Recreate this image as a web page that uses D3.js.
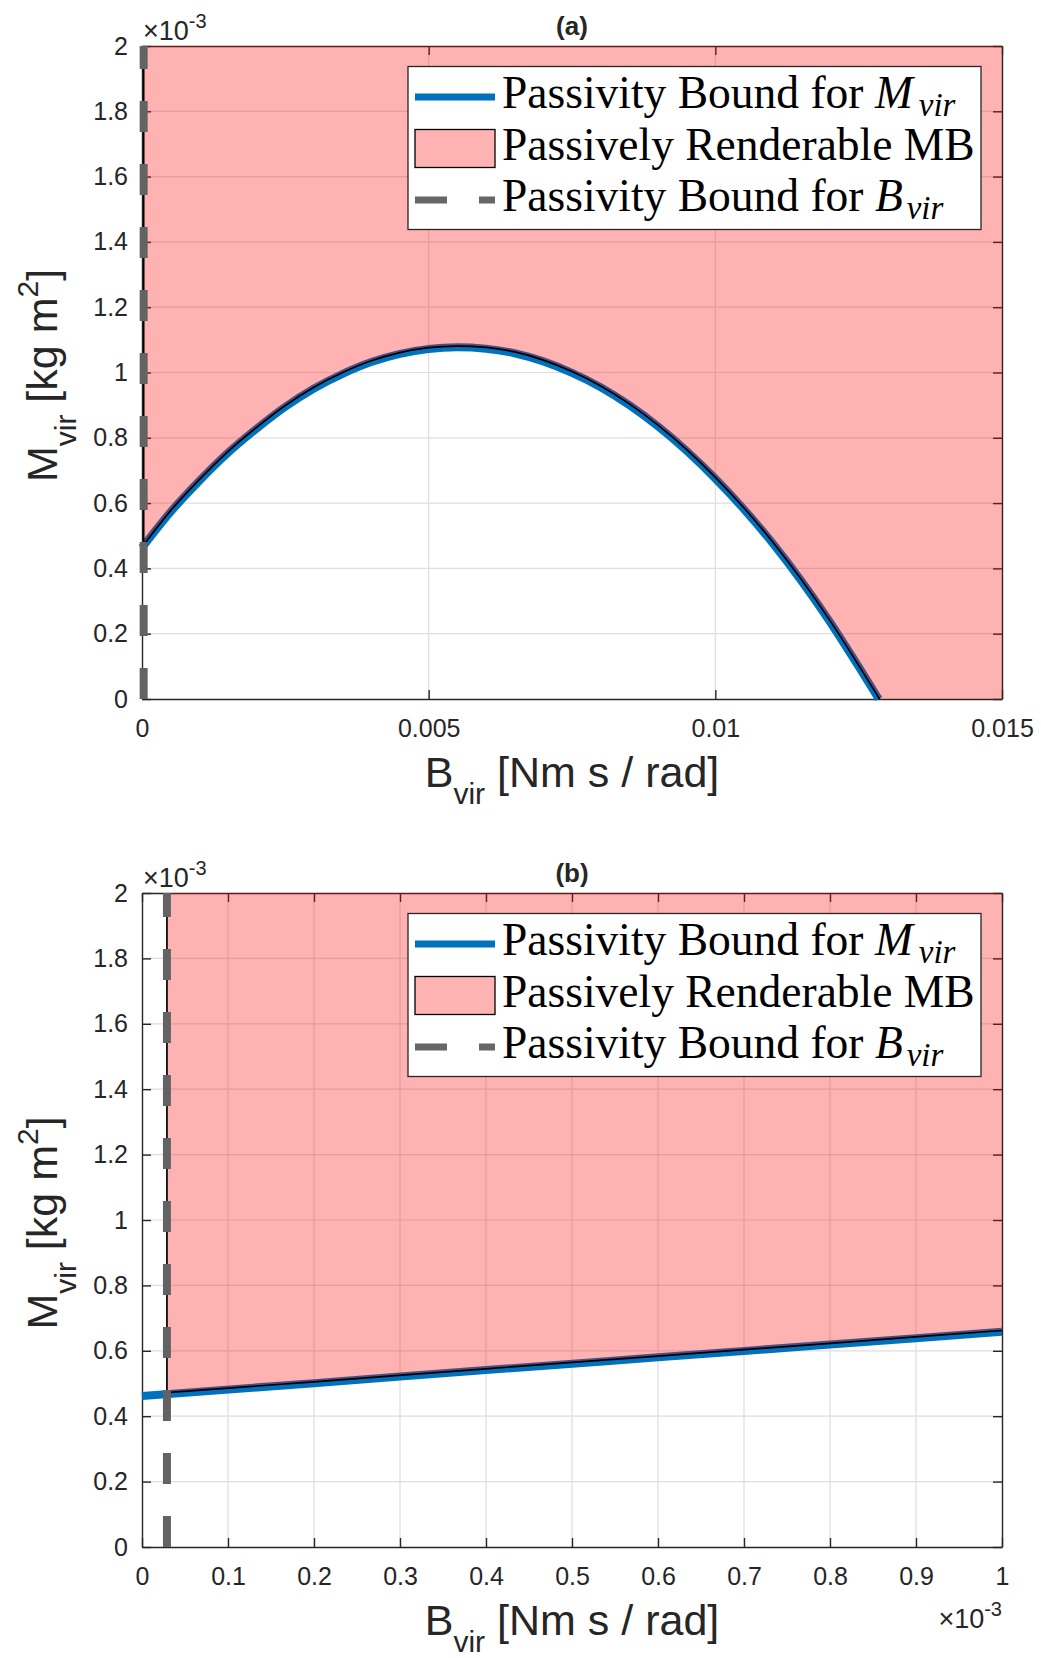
<!DOCTYPE html>
<html>
<head>
<meta charset="utf-8">
<script src="https://cdn.jsdelivr.net/npm/d3@7"></script>
<style>
  body { margin: 0; background: #fff; }
  svg text { font-family: "Liberation Sans", Arial, Helvetica, sans-serif; fill: #262626; }
  .leg text { font-family: "Liberation Serif", "Times New Roman", serif; fill: #000; }
</style>
</head>
<body>
<svg id="fig" width="1041" height="1658"></svg>
<script>
// all B and M values are in units of 1e-3 (the x10^-3 shown on the axes)

// y axis, same for both panels
const yTicks = [0, 0.2, 0.4, 0.6, 0.8, 1, 1.2, 1.4, 1.6, 1.8, 2];
const yTickLabels = ["0", "0.2", "0.4", "0.6", "0.8", "1", "1.2", "1.4", "1.6", "1.8", "2"];

// panel (a) x axis
const xTicksA = [0, 5, 10, 15];
const xTickLabelsA = ["0", "0.005", "0.01", "0.015"];

// panel (b) x axis
const xTicksB = [0, 0.1, 0.2, 0.3, 0.4, 0.5, 0.6, 0.7, 0.8, 0.9, 1];
const xTickLabelsB = ["0", "0.1", "0.2", "0.3", "0.4", "0.5", "0.6", "0.7", "0.8", "0.9", "1"];

// passivity bound for B_vir (dashed vertical line)
const bBound = 0.029;

// passivity bound for M_vir (blue line)
const curveB_a = [0, 0.5, 1, 1.5, 2, 2.5, 3, 3.5, 4, 4.5, 5, 5.5, 6, 6.5, 7, 7.5, 8, 8.5, 9, 9.5, 10, 10.5, 11, 11.5, 12, 12.5, 12.85];
const curveM_a = [0.463, 0.573, 0.668, 0.754, 0.828, 0.895, 0.951, 0.996, 1.032, 1.057, 1.072, 1.077, 1.073, 1.059, 1.034, 0.999, 0.955, 0.900, 0.835, 0.760, 0.675, 0.581, 0.477, 0.362, 0.236, 0.099, 0];
// lower edge of the passively renderable region (black), panel (a)
const edgeB_a = [0.029, 0.5, 1, 1.5, 2, 2.5, 3, 3.5, 4, 4.5, 5, 5.5, 6, 6.5, 7, 7.5, 8, 8.5, 9, 9.5, 10, 10.5, 11, 11.5, 12, 12.5, 12.865];
const edgeM_a = [0.472, 0.577, 0.672, 0.758, 0.832, 0.899, 0.955, 1.000, 1.036, 1.061, 1.076, 1.081, 1.077, 1.063, 1.038, 1.003, 0.959, 0.904, 0.839, 0.764, 0.679, 0.585, 0.481, 0.366, 0.240, 0.103, 0];

// same bound, zoomed in panel (b)
const curveB_b = [0, 0.2, 0.4, 0.6, 0.8, 1];
const curveM_b = [0.462, 0.501, 0.541, 0.580, 0.619, 0.658];
const edgeB_b = [0.029, 0.2, 0.4, 0.6, 0.8, 1];
const edgeM_b = [0.472, 0.505, 0.545, 0.584, 0.623, 0.662];

const titles = ["(a)", "(b)"];

const blue = "#0072bd";
const ink = "#262626";

const svg = d3.select("#fig");

drawPanel({
    top: 46, bottom: 699, left: 142, right: 1002,
    xMax: 15, xTicks: xTicksA, xLabels: xTickLabelsA,
    B: curveB_a, M: curveM_a, eB: edgeB_a, eM: edgeM_a,
    title: titles[0], bottomExp: false
});
drawPanel({
    top: 893, bottom: 1547, left: 142, right: 1002,
    xMax: 1, xTicks: xTicksB, xLabels: xTickLabelsB,
    B: curveB_b, M: curveM_b, eB: edgeB_b, eM: edgeM_b,
    title: titles[1], bottomExp: true
});

function drawPanel(p) {
    var x = d3.scaleLinear().domain([0, p.xMax]).range([p.left, p.right]);
    var y = d3.scaleLinear().domain([0, 2]).range([p.bottom, p.top]);
    var g = svg.append("g");

    // grid
    g.append("g").selectAll("line").data(p.xTicks.slice(1, -1)).enter().append("line")
        .attr("x1", d => x(d)).attr("x2", d => x(d))
        .attr("y1", p.top).attr("y2", p.bottom)
        .attr("stroke", "#dedede").attr("stroke-width", 1.2);
    g.append("g").selectAll("line").data(yTicks.slice(1, -1)).enter().append("line")
        .attr("x1", p.left).attr("x2", p.right)
        .attr("y1", d => y(d)).attr("y2", d => y(d))
        .attr("stroke", "#dedede").attr("stroke-width", 1.2);

    // axes, ticks pointing inwards like matlab
    var ax = g.append("g").attr("class", "axes");
    ax.append("g").attr("transform", "translate(0," + p.bottom + ")")
        .call(d3.axisBottom(x).tickValues(p.xTicks).tickFormat((d, i) => p.xLabels[i])
            .tickSizeInner(-9).tickSizeOuter(0).tickPadding(20));
    ax.append("g").attr("transform", "translate(0," + p.top + ")")
        .call(d3.axisTop(x).tickValues(p.xTicks).tickFormat("").tickSizeInner(-9).tickSizeOuter(0));
    ax.append("g").attr("transform", "translate(" + p.left + ",0)")
        .call(d3.axisLeft(y).tickValues(yTicks).tickFormat((d, i) => yTickLabels[i])
            .tickSizeInner(-9).tickSizeOuter(0).tickPadding(14));
    ax.append("g").attr("transform", "translate(" + p.right + ",0)")
        .call(d3.axisRight(y).tickValues(yTicks).tickFormat("").tickSizeInner(-9).tickSizeOuter(0));
    ax.selectAll("path, line").attr("stroke", ink).attr("stroke-width", 1.4);
    ax.selectAll("text").attr("font-size", 25).attr("fill", ink)
        .style("font-family", "'Liberation Sans', Arial, sans-serif");

    var line = d3.line().x(d => x(d[0])).y(d => y(d[1])).curve(d3.curveMonotoneX);
    var straight = d3.line().x(d => x(d[0])).y(d => y(d[1]));

    // blue bound line (sits under the translucent region)
    var pts = p.B.map((b, i) => [b, p.M[i]]);
    g.append("path").attr("d", line(pts))
        .attr("fill", "none").attr("stroke", blue).attr("stroke-width", 8)
        .attr("stroke-linejoin", "round");

    // passively renderable region
    var edge = p.eB.map((b, i) => [b, p.eM[i]]);
    var last = edge[edge.length - 1];
    var rest = [last];
    if (last[0] < p.xMax) rest.push([p.xMax, last[1]]);
    rest.push([p.xMax, 2]);
    rest.push([bBound, 2]);
    g.append("path")
        .attr("d", line(edge) + straight(rest).replace("M", "L") + "Z")
        .attr("fill", "#ff0000").attr("fill-opacity", 0.3).attr("stroke", "none");
    g.append("path").attr("d", straight([[bBound, 2], edge[0]]) + line(edge).replace("M", "L"))
        .attr("fill", "none").attr("stroke", "#000").attr("stroke-width", 1.7);

    // dashed bound for B_vir, dash pattern starts at the bottom
    g.append("line")
        .attr("x1", x(bBound)).attr("x2", x(bBound))
        .attr("y1", y(0)).attr("y2", y(2))
        .attr("stroke", "#636363").attr("stroke-width", 8)
        .attr("stroke-dasharray", "31 32");

    // exponent labels
    var e = g.append("text").attr("x", p.left + 1).attr("y", p.top - 6).attr("font-size", 27);
    e.append("tspan").text("\u00d710");
    e.append("tspan").attr("dy", -12).attr("font-size", 20).text("-3");
    if (p.bottomExp) {
        var e2 = g.append("text").attr("x", p.right).attr("y", p.bottom + 81)
            .attr("font-size", 27).attr("text-anchor", "end");
        e2.append("tspan").text("\u00d710");
        e2.append("tspan").attr("dy", -12).attr("font-size", 20).text("-3");
    }

    // title
    g.append("text").attr("x", (p.left + p.right) / 2).attr("y", p.top - 11)
        .attr("text-anchor", "middle").attr("font-size", 26).attr("font-weight", "bold")
        .attr("fill", "#000").text(p.title);

    // x label
    var xl = g.append("text").attr("x", (p.left + p.right) / 2).attr("y", p.bottom + 88)
        .attr("text-anchor", "middle").attr("font-size", 43);
    xl.append("tspan").text("B");
    xl.append("tspan").attr("dy", 17).attr("font-size", 30).text("vir");
    xl.append("tspan").attr("dy", -17).text(" [Nm s / rad]");

    // y label
    var yl = g.append("text")
        .attr("transform", "translate(57," + ((p.top + p.bottom) / 2 + 3) + ") rotate(-90)")
        .attr("text-anchor", "middle").attr("font-size", 43);
    yl.append("tspan").text("M");
    yl.append("tspan").attr("dy", 19).attr("font-size", 30).text("vir");
    yl.append("tspan").attr("dy", -19).text(" [kg m");
    yl.append("tspan").attr("dy", -19).attr("font-size", 30).text("2");
    yl.append("tspan").attr("dy", 19).text("]");

    drawLegend(p.top + 20);
}

function drawLegend(top) {
    var lg = svg.append("g").attr("class", "leg");
    lg.append("rect").attr("x", 408).attr("y", top + 0.5).attr("width", 573).attr("height", 163)
        .attr("fill", "#fff").attr("stroke", ink).attr("stroke-width", 1.3);
    var rows = [top + 31, top + 82.5, top + 134];

    lg.append("line").attr("x1", 415).attr("x2", 495).attr("y1", rows[0]).attr("y2", rows[0])
        .attr("stroke", blue).attr("stroke-width", 7);
    lg.append("rect").attr("x", 415).attr("y", rows[1] - 19).attr("width", 80).attr("height", 38)
        .attr("fill", "#ffb3b3").attr("stroke", "#000").attr("stroke-width", 1.3);
    lg.append("line").attr("x1", 415).attr("x2", 495).attr("y1", rows[2]).attr("y2", rows[2])
        .attr("stroke", "#666").attr("stroke-width", 7).attr("stroke-dasharray", "32 32");

    var t1 = lg.append("text").attr("x", 502).attr("y", rows[0] + 11).attr("font-size", 45.5);
    t1.append("tspan").text("Passivity Bound for ");
    t1.append("tspan").attr("font-style", "italic").text("M");
    t1.append("tspan").attr("font-style", "italic").attr("font-size", 33)
        .attr("dx", 6).attr("dy", 8).text("vir");

    lg.append("text").attr("x", 502).attr("y", rows[1] + 11).attr("font-size", 45.5)
        .text("Passively Renderable MB");

    var t3 = lg.append("text").attr("x", 502).attr("y", rows[2] + 11).attr("font-size", 45.5);
    t3.append("tspan").text("Passivity Bound for ");
    t3.append("tspan").attr("font-style", "italic").text("B");
    t3.append("tspan").attr("font-style", "italic").attr("font-size", 33)
        .attr("dx", 4).attr("dy", 8).text("vir");
}
</script>
</body>
</html>
